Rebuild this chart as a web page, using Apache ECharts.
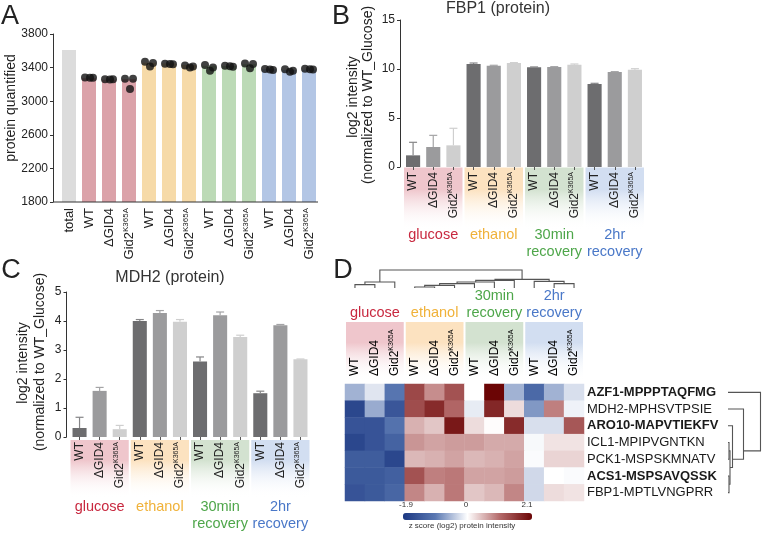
<!DOCTYPE html>
<html><head><meta charset="utf-8">
<script src="https://cdn.jsdelivr.net/npm/echarts@6/dist/echarts.min.js"></script>
<style>html,body{margin:0;padding:0;background:#fff}#c{width:762px;height:533px}</style>
</head><body><div id="c"></div>
<script>
const FONT = '"Liberation Sans", Arial, Helvetica, sans-serif';

// ---------- Panel A data ----------
const catsA = ['total','WT','ΔGID4','Gid2^K365A','WT','ΔGID4','Gid2^K365A','WT','ΔGID4','Gid2^K365A','WT','ΔGID4','Gid2^K365A'];
const protQuantified = [3610, 3273, 3255, 3260, 3458, 3450, 3430, 3423, 3419, 3440, 3380, 3371, 3375];
const protReplicates = [
  [3282, 3278, 3280], [3262, 3258, 3262], [3268, 3145, 3266],
  [3470, 3412, 3456], [3446, 3442, 3440], [3425, 3400, 3412],
  [3432, 3362, 3400], [3422, 3416, 3410], [3450, 3392, 3442],
  [3382, 3376, 3372], [3380, 3350, 3362], [3386, 3380, 3376]
];
const jitter = [-0.2, 0.05, 0.2];
const protTicks = [1800, 3800, 400];

// ---------- Panels B / C data ----------
const condCats = ['WT','ΔGID4','Gid2^K365A','WT','ΔGID4','Gid2^K365A','WT','ΔGID4','Gid2^K365A','WT','ΔGID4','Gid2^K365A'];
const groupNames = ['glucose','ethanol','30min\nrecovery','2hr\nrecovery'];
const fbp1Mean = [1.19, 2.04, 2.21, 10.51, 10.34, 10.61, 10.17, 10.20, 10.44, 8.47, 9.69, 9.93];
const fbp1Err  = [1.33, 1.19, 1.74, 0.10, 0.04, 0.04, 0.04, 0.04, 0.07, 0.07, 0.04, 0.10];
const mdh2Mean = [0.31, 1.59, 0.27, 4.00, 4.28, 3.97, 2.60, 4.20, 3.45, 1.51, 3.85, 2.68];
const mdh2Err  = [0.37, 0.12, 0.13, 0.05, 0.08, 0.08, 0.16, 0.11, 0.06, 0.07, 0.03, 0.01];
const fbp1Ticks = [0, 15, 5];
const mdh2Ticks = [0, 5, 1];

// ---------- Panel D data ----------
const hmRows = ['AZF1-MPPPTAQFMG','MDH2-MPHSVTPSIE','ARO10-MAPVTIEKFV','ICL1-MPIPVGNTKN','PCK1-MSPSKMNATV','ACS1-MSPSAVQSSK','FBP1-MPTLVNGPRR'];
const hmBold = [true, false, true, false, false, true, false];
const zAZF1  = [-0.6, -0.2, -1.1, 1.4, 0.8, 1.3, 0.0, 2.1, -0.6, -1.3, -0.6, -0.25];
const zMDH2  = [-1.85, -0.65, -1.6, 1.35, 1.7, 1.1, -0.15, 1.75, 0.25, -0.8, 0.9, -0.1];
const zARO10 = [-1.65, -1.65, -1.15, 0.55, 0.4, 1.9, 0.25, 0.02, 1.7, -0.25, -0.25, 1.25];
const zICL1  = [-1.85, -1.65, -1.4, 0.75, 0.65, 0.7, 0.7, 0.6, 0.6, -0.05, 0.2, 0.2];
const zPCK1  = [-1.5, -1.5, -1.85, 0.5, 0.55, 0.65, 0.5, 0.55, 0.65, -0.03, 0.3, 0.3];
const zACS1  = [-1.55, -1.55, -1.45, 1.3, 0.9, 0.95, 0.65, 0.65, 0.7, -0.3, 0.0, -0.03];
const zFBP1  = [-1.65, -1.55, -1.35, 0.85, 0.55, 0.95, 0.4, 0.5, 0.85, -0.3, 0.25, 0.2];
const hmValues = [zAZF1, zMDH2, zARO10, zICL1, zPCK1, zACS1, zFBP1];
const zRange = [-2.1, 2.1];
const zLabels = ['-1.9', '0', '2.1'];
// column dendrogram merges [a, b, height] (leaves 0..11, new nodes 12..)
const colMerges = [[0,1,1.0],[12,2,1.8],[3,4,0.3],[14,5,0.8],[15,6,1.3],[16,7,1.8],[17,8,2.3],[10,11,1.3],[19,9,2.0],[18,20,2.6],[13,21,5.4]];
// row dendrogram merges (leaves 0..6, new nodes 7..)
const rowMerges = [[3,4,1.0],[5,6,1.0],[7,8,2.0],[2,9,4.5],[1,10,15.5],[0,11,32.5]];

// ---------- styles ----------
const totalColor = '#dcdcdc';
const groupBarColors = ['#dba2a9','#f6daa8','#bcdab6','#b3c6e5'];
const condColors = ['#6d6d6f','#9b9b9d','#cfcfcf'];
const errColors = ['#858587','#a4a4a6','#cfcfcf'];
const boxColors = ['#efc6cc','#fce2c0','#d3e2d0','#d2def1'];
const groupTextColors = ['#c8283f','#f0b23a','#4ea64a','#4a78c8'];

function splitSup(v) {
  const p = v.split('^');
  return p.length > 1 ? '{m|' + p[0] + '}{s|' + p[1] + '}' : '{m|' + v + '}';
}
function richLab(fs) {
  return {
    m: {fontSize: fs, fontFamily: FONT, color: '#222', lineHeight: fs + 2},
    s: {fontSize: Math.round(fs * 0.58), fontFamily: FONT, color: '#222', verticalAlign: 'top', lineHeight: fs + 2}
  };
}
function errRender(params, api) {
  const x = api.value(0), y0 = api.value(1), y1 = api.value(2);
  const p0 = api.coord([x, y0]), p1 = api.coord([x, y1]);
  const st = {stroke: api.visual('color'), lineWidth: 1.2};
  return {type: 'group', children: [
    {type: 'line', shape: {x1: p0[0], y1: p0[1], x2: p1[0], y2: p1[1]}, style: st},
    {type: 'line', shape: {x1: p1[0] - 4, y1: p1[1], x2: p1[0] + 4, y2: p1[1]}, style: st}
  ]};
}
const axisLineStyle = {color: '#333', width: 1};
function valueAxis(grid, ticks, offset) {
  return {type: 'value', gridIndex: grid, min: ticks[0], max: ticks[1], interval: ticks[2], offset: offset,
    axisLine: {show: true, onZero: false, lineStyle: axisLineStyle},
    axisTick: {show: true, length: 3, lineStyle: axisLineStyle},
    splitLine: {show: false},
    axisLabel: {fontSize: 12, fontFamily: FONT, color: '#222', margin: 5, formatter: v => String(v)}};
}
function condAxis(grid, fs, margin) {
  return {type: 'category', gridIndex: grid, data: condCats,
    axisLine: {show: false, onZero: false},
    axisTick: {show: true, length: 3, alignWithLabel: true, lineStyle: {color: '#555'}},
    axisLabel: {interval: 0, rotate: 90, margin: margin, formatter: splitSup, rich: richLab(fs)}};
}

const chart = echarts.init(document.getElementById('c'), null, {renderer: 'canvas', width: 762, height: 533});

const heatData = [];
hmValues.forEach((row, r) => row.forEach((v, c) => heatData.push([c, r, v])));

const option = {
  animation: false,
  backgroundColor: '#fff',
  textStyle: {fontFamily: FONT},
  grid: [
    {left: 59, top: 34, width: 260, height: 168, outerBoundsMode: 'none'},
    {left: 403, top: 20, width: 242, height: 147, outerBoundsMode: 'none'},
    {left: 69.5, top: 292, width: 241, height: 145, outerBoundsMode: 'none'},
    {left: 345, top: 384, width: 239, height: 117, outerBoundsMode: 'none'}
  ],
  xAxis: [
    {type: 'category', gridIndex: 0, data: catsA,
      axisLine: {show: false, onZero: false}, axisTick: {show: false},
      axisLabel: {interval: 0, rotate: 90, margin: 6, formatter: splitSup, rich: richLab(13)}},
    {type: 'value', gridIndex: 0, min: -0.5, max: 12.5, show: false, axisLine: {onZero: false}},
    condAxis(1, 12, 5),
    condAxis(2, 12, 5),
    {type: 'category', gridIndex: 3, position: 'top', data: condCats,
      axisLine: {show: false, onZero: false}, axisTick: {show: false}, splitLine: {show: false},
      axisLabel: {show: false}}
  ],
  yAxis: [
    valueAxis(0, protTicks, 6),
    valueAxis(1, fbp1Ticks, 3),
    valueAxis(2, mdh2Ticks, 3),
    {type: 'category', gridIndex: 3, position: 'right', inverse: true, data: hmRows,
      axisLine: {show: false, onZero: false}, axisTick: {show: false}, splitLine: {show: false},
      axisLabel: {align: 'left', margin: 3,
        formatter: (v, i) => (hmBold[i] ? '{b|' + v + '}' : '{n|' + v + '}'),
        rich: {b: {fontSize: 13, fontWeight: 'bold', fontFamily: FONT, color: '#1a1a1a'},
               n: {fontSize: 13, fontFamily: FONT, color: '#1a1a1a'}}}}
  ],
  visualMap: {
    type: 'continuous', seriesIndex: 6, min: zRange[0], max: zRange[1],
    orient: 'horizontal', left: 403, top: 513, itemWidth: 7, itemHeight: 129,
    calculable: false, showLabel: false, text: null, padding: 0, hoverLink: false,
    inRange: {color: ['#1c3882', '#5a78b2', '#ffffff', '#b46a6a', '#6b0505']}
  },
  series: [
    {type: 'bar', xAxisIndex: 0, yAxisIndex: 0, barWidth: '70%', silent: true,
      data: protQuantified.map((v, i) => ({value: v, itemStyle: {color: i === 0 ? totalColor : groupBarColors[Math.floor((i - 1) / 3)]}}))},
    {type: 'scatter', xAxisIndex: 1, yAxisIndex: 0, symbolSize: 8, silent: true, z: 5,
      itemStyle: {color: '#111'},
      data: protReplicates.flatMap((reps, i) => reps.map((v, r) => [i + 1 + jitter[r], v]))},
    {type: 'bar', xAxisIndex: 2, yAxisIndex: 1, barWidth: '70%', silent: true,
      data: fbp1Mean.map((v, i) => ({value: v, itemStyle: {color: condColors[i % 3]}}))},
    {type: 'custom', xAxisIndex: 2, yAxisIndex: 1, renderItem: errRender, silent: true, z: 4,
      encode: {x: 0, y: [1, 2]},
      data: fbp1Mean.map((m, i) => ({value: [i, m, m + fbp1Err[i]], itemStyle: {color: errColors[i % 3]}}))},
    {type: 'bar', xAxisIndex: 3, yAxisIndex: 2, barWidth: '70%', silent: true,
      data: mdh2Mean.map((v, i) => ({value: v, itemStyle: {color: condColors[i % 3]}}))},
    {type: 'custom', xAxisIndex: 3, yAxisIndex: 2, renderItem: errRender, silent: true, z: 4,
      encode: {x: 0, y: [1, 2]},
      data: mdh2Mean.map((m, i) => ({value: [i, m, m + mdh2Err[i]], itemStyle: {color: errColors[i % 3]}}))},
    {type: 'heatmap', xAxisIndex: 4, yAxisIndex: 3, data: heatData, silent: true,
      itemStyle: {borderWidth: 0}, emphasis: {disabled: true}}
  ]
};
chart.setOption(option);

// ---------- decorations computed from the axes ----------
const g = [];
function txt(text, x, y, opt) {
  g.push(Object.assign({type: 'text', x: x, y: y, z: 10, style: Object.assign({
    text: text, fontSize: 14, fontFamily: FONT, fill: '#222', align: 'center', verticalAlign: 'middle'}, opt.style || {})}, opt.el || {}));
}
// panel letters
txt('A', 10, 17, {style: {fontSize: 27}});
txt('B', 341, 17, {style: {fontSize: 27}});
txt('C', 11, 271, {style: {fontSize: 27}});
txt('D', 343, 271, {style: {fontSize: 27}});
// titles
txt('FBP1 (protein)', 498, 9, {style: {fontSize: 16, fill: '#333'}});
txt('MDH2 (protein)', 170, 278, {style: {fontSize: 16, fill: '#333'}});
// axis names
txt('protein quantified', 11, 108, {el: {rotation: Math.PI / 2}});
txt('log2 intensity', 353, 97, {el: {rotation: Math.PI / 2}});
txt('(normalized to WT_Glucose)', 368, 95, {el: {rotation: Math.PI / 2}});
txt('log2 intensity', 23, 363, {el: {rotation: Math.PI / 2}});
txt('(normalized to WT_Glucose)', 40, 362, {el: {rotation: Math.PI / 2}});

// panel A x axis line spanning from the offset y axis
const a0 = chart.convertToPixel({gridIndex: 0}, [0, protTicks[0]]);
g.push({type: 'line', z: 10, shape: {x1: 53, y1: a0[1], x2: 318, y2: a0[1]}, style: {stroke: '#333', lineWidth: 1}});

// group boxes + labels
function groupBoxes(xAxisIndex, y0, y1, labelY, labelVA) {
  for (let gi = 0; gi < 4; gi++) {
    const xa = chart.convertToPixel({xAxisIndex: xAxisIndex}, gi * 3);
    const xb = chart.convertToPixel({xAxisIndex: xAxisIndex}, gi * 3 + 2);
    const band = (xb - xa) / 2;
    const left = xa - band / 2 + 1, right = xb + band / 2 - 1;
    g.push({type: 'rect', z: -10, shape: {x: left, y: y0, width: right - left, height: y1 - y0},
      style: {fill: {type: 'linear', x: 0, y: 0, x2: 0, y2: 1, colorStops: [
        {offset: 0, color: boxColors[gi]}, {offset: 0.35, color: boxColors[gi]}, {offset: 1, color: 'rgba(255,255,255,0)'}]}}});
    txt(groupNames[gi], (left + right) / 2, labelY, {style: {fill: groupTextColors[gi], fontSize: 14.5, lineHeight: 17, verticalAlign: labelVA}});
  }
}
groupBoxes(2, 167.5, 230, 226.5, 'top');
groupBoxes(3, 440, 498, 498.5, 'top');
groupBoxes(4, 322, 381, 321.5, 'bottom');

// heatmap column labels (read bottom to top, starting just above the cells)
const rl = richLab(12);
condCats.forEach((c, i) => {
  const x = chart.convertToPixel({xAxisIndex: 4}, i);
  g.push({type: 'text', x: x, y: 376, rotation: Math.PI / 2, z: 10,
    style: {text: splitSup(c), rich: rl, align: 'left', verticalAlign: 'middle'}});
});

// column dendrogram (node position = mean of its two children)
(function () {
  const n = 12, base = 288, k = 18 / 5.4;
  const pos = [], hy = [];
  for (let i = 0; i < n; i++) { pos.push(chart.convertToPixel({xAxisIndex: 4}, i)); hy.push(base); }
  colMerges.forEach(([a, b, h]) => {
    const y = base - h * k;
    g.push({type: 'polyline', z: 10, shape: {points: [[pos[a], hy[a]], [pos[a], y], [pos[b], y], [pos[b], hy[b]]]},
      style: {stroke: '#555', lineWidth: 1.1, fill: null}});
    pos.push((pos[a] + pos[b]) / 2); hy.push(y);
  });
})();
// row dendrogram (node position = mean of its leaves)
(function () {
  const n = 7, base = 728, k = 1;
  const pos = [], hx = [], cnt = [];
  for (let i = 0; i < n; i++) { pos.push(chart.convertToPixel({yAxisIndex: 3}, i)); hx.push(base); cnt.push(1); }
  rowMerges.forEach(([a, b, h]) => {
    const x = base + h * k;
    g.push({type: 'polyline', z: 10, shape: {points: [[hx[a], pos[a]], [x, pos[a]], [x, pos[b]], [hx[b], pos[b]]]},
      style: {stroke: '#555', lineWidth: 1.1, fill: null}});
    pos.push((pos[a] * cnt[a] + pos[b] * cnt[b]) / (cnt[a] + cnt[b])); hx.push(x); cnt.push(cnt[a] + cnt[b]);
  });
})();
// colour bar labels
txt(zLabels[0], 406, 505, {style: {fontSize: 8, fill: '#333'}});
txt(zLabels[1], 466, 505, {style: {fontSize: 8, fill: '#333'}});
txt(zLabels[2], 527, 505, {style: {fontSize: 8, fill: '#333'}});
txt('z score (log2) protein intensity', 462, 526, {style: {fontSize: 8, fill: '#333'}});

chart.setOption({graphic: {elements: g}});
</script>
</body></html>
